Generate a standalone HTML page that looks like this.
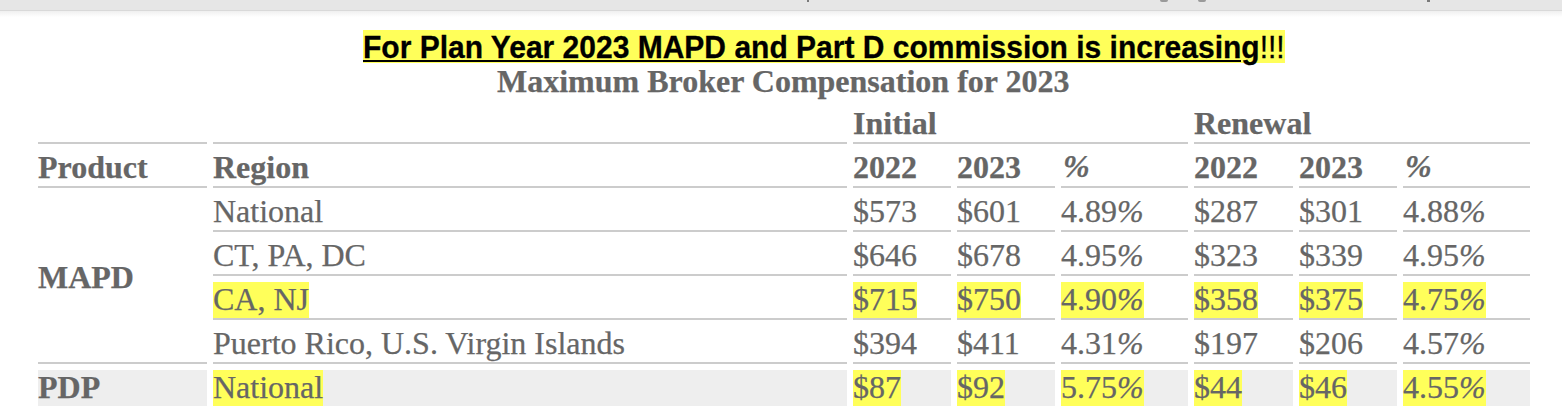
<!DOCTYPE html>
<html><head><meta charset="utf-8">
<style>
html,body{margin:0;padding:0;background:#fff;width:1562px;height:412px;overflow:hidden;position:relative}
.bar{position:absolute;left:0;top:0;width:1562px;height:10px;background:#e6e6e6}
.barline{position:absolute;left:0;top:10px;width:1562px;height:1px;background:#d9d9d9}
.shadow{position:absolute;left:0;top:11px;width:1562px;height:6px;background:linear-gradient(#f0f0f0,#fff)}
.d{position:absolute;background:#7a7a7a}
.hy{position:absolute;left:363px;top:30px;width:922px;height:33px;background:#ffff5a}
.hul{position:absolute;left:363px;top:60px;width:878px;height:2px;background:#000}
.hdr{position:absolute;left:363px;top:31px;white-space:nowrap;font:bold 31px "Liberation Sans",sans-serif;color:#000;line-height:34px;transform:scaleX(0.968);transform-origin:0 0;-webkit-text-stroke:0.3px #000}
.hdr .e{font-weight:normal}
.ttl{position:absolute;left:497px;top:63px;white-space:nowrap;font:bold 32px "Liberation Serif",serif;color:#666;line-height:36px;-webkit-text-stroke:0.25px #666}
.c{position:absolute;height:36px;border-bottom:2px solid #ccc;font:32px "Liberation Serif",serif;color:#666;line-height:36px;white-space:nowrap;overflow:visible}
.b{font-weight:bold}
.t{position:relative;top:-1px;-webkit-text-stroke:0.25px #666}
.g{background:#eee;border-bottom:none}
.y{background:#ffff5a}
.x1{left:38px;width:169px}
.x2{left:213px;width:634px}
.x3{left:853px;width:98px}
.x4{left:957px;width:98px}
.x5{left:1061px;width:127px}
.x6{left:1194px;width:99px}
.x7{left:1299px;width:98px}
.x8{left:1403px;width:127px}
.xi{left:853px;width:335px}
.xr{left:1194px;width:336px}
.r1{top:106px}.r2{top:150px}.r3{top:194px}.r4{top:238px}.r5{top:282px}.r6{top:326px}.r7{top:370px}
.mapd{top:194px;height:168px;line-height:168px}
</style></head><body>
<div class="bar"></div><div class="barline"></div><div class="shadow"></div>
<div class="d" style="left:807px;top:0;width:2px;height:2px"></div>
<div class="d" style="left:1160px;top:0;width:8px;height:2px;border-radius:0 0 4px 4px;background:#9a9a9a"></div>
<div class="d" style="left:1198px;top:0;width:8px;height:2px;border-radius:0 0 4px 4px;background:#9a9a9a"></div>
<div class="d" style="left:1427px;top:0;width:3px;height:2px"></div>

<div class="hy"></div>
<div class="hdr"><span class="u">For Plan Year 2023 MAPD and Part D commission is increasing</span><span class="e">!!!</span></div>
<div class="hul"></div>
<div class="ttl">Maximum Broker Compensation for 2023</div>

<div class="c x1 r1"></div>
<div class="c x2 r1"></div>
<div class="c xi r1 b"><span class="t">Initial</span></div>
<div class="c xr r1 b"><span class="t">Renewal</span></div>

<div class="c x1 r2 b"><span class="t">Product</span></div>
<div class="c x2 r2 b"><span class="t">Region</span></div>
<div class="c x3 r2 b"><span class="t">2022</span></div>
<div class="c x4 r2 b"><span class="t">2023</span></div>
<div class="c x5 r2 b"><span class="t"><i style="position:relative;left:2px;top:-1px">%</i></span></div>
<div class="c x6 r2 b"><span class="t">2022</span></div>
<div class="c x7 r2 b"><span class="t">2023</span></div>
<div class="c x8 r2 b"><span class="t"><i style="position:relative;left:2px;top:-1px">%</i></span></div>

<div class="c x1 mapd b"><span class="t">MAPD</span></div>

<div class="c x2 r3"><span class="t">National</span></div>
<div class="c x3 r3"><span class="t">$573</span></div>
<div class="c x4 r3"><span class="t">$601</span></div>
<div class="c x5 r3"><span class="t">4.89<i>%</i></span></div>
<div class="c x6 r3"><span class="t">$287</span></div>
<div class="c x7 r3"><span class="t">$301</span></div>
<div class="c x8 r3"><span class="t">4.88<i>%</i></span></div>

<div class="c x2 r4"><span class="t">CT, PA, DC</span></div>
<div class="c x3 r4"><span class="t">$646</span></div>
<div class="c x4 r4"><span class="t">$678</span></div>
<div class="c x5 r4"><span class="t">4.95<i>%</i></span></div>
<div class="c x6 r4"><span class="t">$323</span></div>
<div class="c x7 r4"><span class="t">$339</span></div>
<div class="c x8 r4"><span class="t">4.95<i>%</i></span></div>

<div class="c x2 r5"><span class="y"><span class="t">CA, NJ</span></span></div>
<div class="c x3 r5"><span class="y"><span class="t">$715</span></span></div>
<div class="c x4 r5"><span class="y"><span class="t">$750</span></span></div>
<div class="c x5 r5"><span class="y"><span class="t">4.90<i>%</i></span></span></div>
<div class="c x6 r5"><span class="y"><span class="t">$358</span></span></div>
<div class="c x7 r5"><span class="y"><span class="t">$375</span></span></div>
<div class="c x8 r5"><span class="y"><span class="t">4.75<i>%</i></span></span></div>

<div class="c x2 r6"><span class="t">Puerto Rico, U.S. Virgin Islands</span></div>
<div class="c x3 r6"><span class="t">$394</span></div>
<div class="c x4 r6"><span class="t">$411</span></div>
<div class="c x5 r6"><span class="t">4.31<i>%</i></span></div>
<div class="c x6 r6"><span class="t">$197</span></div>
<div class="c x7 r6"><span class="t">$206</span></div>
<div class="c x8 r6"><span class="t">4.57<i>%</i></span></div>

<div class="c x1 r7 g b"><span class="t">PDP</span></div>
<div class="c x2 r7 g"><span class="y"><span class="t">National</span></span></div>
<div class="c x3 r7 g"><span class="y"><span class="t">$87</span></span></div>
<div class="c x4 r7 g"><span class="y"><span class="t">$92</span></span></div>
<div class="c x5 r7 g"><span class="y"><span class="t">5.75<i>%</i></span></span></div>
<div class="c x6 r7 g"><span class="y"><span class="t">$44</span></span></div>
<div class="c x7 r7 g"><span class="y"><span class="t">$46</span></span></div>
<div class="c x8 r7 g"><span class="y"><span class="t">4.55<i>%</i></span></span></div>
</body></html>
